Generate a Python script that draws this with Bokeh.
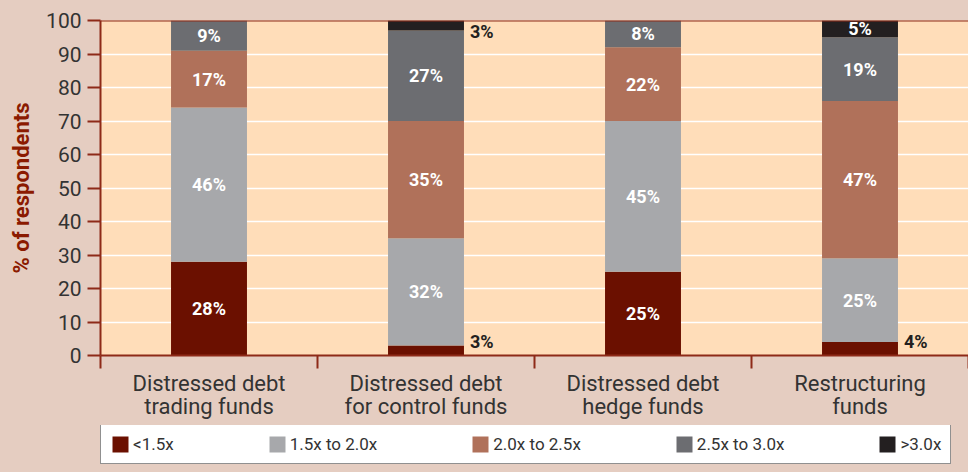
from bokeh.plotting import figure
from bokeh.models import Range1d, FixedTicker, Span, ColumnDataSource, Legend
from bokeh.layouts import column
from bokeh.embed import file_html
from bokeh.resources import INLINE
from bokeh.core.properties import value

categories = ["Distressed debt\ntrading funds", "Distressed debt\nfor control funds",
              "Distressed debt\nhedge funds", "Restructuring\nfunds"]
series = ["<1.5x", "1.5x to 2.0x", "2.0x to 2.5x", "2.5x to 3.0x", ">3.0x"]
lt_1_5 = [28, 3, 25, 4]
x15_to_20 = [46, 32, 45, 25]
x20_to_25 = [17, 35, 22, 47]
x25_to_30 = [9, 27, 8, 19]
gt_3_0 = [0, 3, 0, 5]
y_ticks = [0, 10, 20, 30, 40, 50, 60, 70, 80, 90, 100]

colors = ["#6B1000", "#A7A8AB", "#B0715A", "#6C6D71", "#231F20"]
AXIS = "#8E2A18"
BG = "#E5CDC1"
FONT = "Roboto"

data = [lt_1_5, x15_to_20, x20_to_25, x25_to_30, gt_3_0]
xs = [i + 0.5 for i in range(len(categories))]
BAR_W = 0.35

src = ColumnDataSource(dict(x=xs, **{s: d for s, d in zip(series, data)}))

p = figure(width=968, height=425, output_backend="svg", toolbar_location=None,
           x_range=Range1d(0, len(categories)), y_range=Range1d(0, 100),
           min_border_left=100, min_border_right=0, min_border_top=20, min_border_bottom=70)
p.background_fill_color = "#FFDDB9"
p.border_fill_color = BG
p.outline_line_color = None

rs = p.vbar_stack(series, x="x", width=BAR_W, color=colors, line_color=None, source=src)

# value labels
lx, ly, lt, lc, la, lb, lxo, lyo = [], [], [], [], [], [], [], []
for i in range(len(categories)):
    base = 0
    for vals in data:
        v = vals[i]
        if v > 0:
            lt.append(f"{v}%")
            if v >= 5:
                lx.append(xs[i]); ly.append(base + v / 2); lc.append("white")
                la.append("center"); lb.append("middle"); lxo.append(0); lyo.append(0)
            else:
                lx.append(xs[i] + BAR_W / 2); lc.append("#231F20"); la.append("left"); lxo.append(6)
                if base == 0:
                    ly.append(base); lb.append("bottom"); lyo.append(-4)
                else:
                    ly.append(base + v); lb.append("top"); lyo.append(0)
        base += v
lsrc = ColumnDataSource(dict(x=lx, y=ly, t=lt, c=lc, a=la, b=lb, xo=lxo, yo=lyo))
p.text(x="x", y="y", text="t", text_color="c", text_align="a", text_baseline="b",
       x_offset="xo", y_offset="yo", text_font=value(FONT), text_font_style="bold",
       text_font_size="18px", source=lsrc)

p.add_layout(Span(location=100, dimension="width", line_color=AXIS, line_width=2))

# grid
p.xgrid.visible = False
p.ygrid.ticker = FixedTicker(ticks=y_ticks)
p.ygrid.grid_line_color = "white"
p.ygrid.grid_line_width = 1.5
p.ygrid.level = "underlay"

# y axis
ya = p.yaxis[0]
ya.ticker = FixedTicker(ticks=y_ticks)
ya.axis_line_color = AXIS
ya.axis_line_width = 2
ya.major_tick_line_color = AXIS
ya.major_tick_line_width = 2
ya.major_tick_out = 13
ya.major_tick_in = 0
ya.minor_tick_line_color = None
ya.major_label_standoff = 6
ya.major_label_text_font = FONT
ya.major_label_text_font_size = "21px"
ya.major_label_text_color = "#333333"
ya.axis_label = "% of respondents"
ya.axis_label_text_font = FONT
ya.axis_label_text_font_style = "bold"
ya.axis_label_text_font_size = "22px"
ya.axis_label_text_color = "#8B1A00"
ya.axis_label_standoff = 9

# x axis
xa = p.xaxis[0]
xa.ticker = FixedTicker(ticks=xs, minor_ticks=list(range(len(categories) + 1)))
xa.major_label_overrides = {x: c for x, c in zip(xs, categories)}
xa.axis_line_color = AXIS
xa.axis_line_width = 2
xa.major_tick_line_color = None
xa.major_tick_out = 0
xa.major_tick_in = 0
xa.minor_tick_line_color = AXIS
xa.minor_tick_line_width = 2
xa.minor_tick_out = 13
xa.minor_tick_in = 0
xa.major_label_standoff = 2
xa.major_label_text_font = FONT
xa.major_label_text_font_size = "22px"
xa.major_label_text_line_height = 0.95
xa.major_label_text_color = "#333333"

# legend strip (separate figure below the chart); its bars lie outside its y range
p2 = figure(width=968, height=47, output_backend="svg", toolbar_location=None,
            x_range=Range1d(0, len(categories)), y_range=Range1d(-2, -1),
            x_axis_location=None, y_axis_location=None,
            min_border_left=100, min_border_right=0, min_border_top=0, min_border_bottom=0)
p2.background_fill_color = BG
p2.border_fill_color = BG
p2.outline_line_color = None
p2.grid.visible = False
legend_rs = p2.vbar_stack(series, x="x", width=BAR_W, color=colors, line_color=None, source=src)

lg = Legend(items=[(s, [r]) for s, r in zip(series, legend_rs)])
lg.orientation = "horizontal"
lg.location = (0, 8)
lg.background_fill_color = "white"
lg.background_fill_alpha = 1
lg.border_line_color = "#222222"
lg.border_line_width = 1.5
lg.glyph_width = 20
lg.glyph_height = 20
lg.label_height = 20
lg.label_standoff = 3
lg.spacing = 93
lg.padding = 9
lg.margin = 0
lg.label_text_font = FONT
lg.label_text_font_size = "17px"
lg.label_text_color = "#333333"
p2.add_layout(lg)

layout = column(p, p2, spacing=0, styles={"background-color": BG})
open("out.html", "w").write(file_html(layout, INLINE))
